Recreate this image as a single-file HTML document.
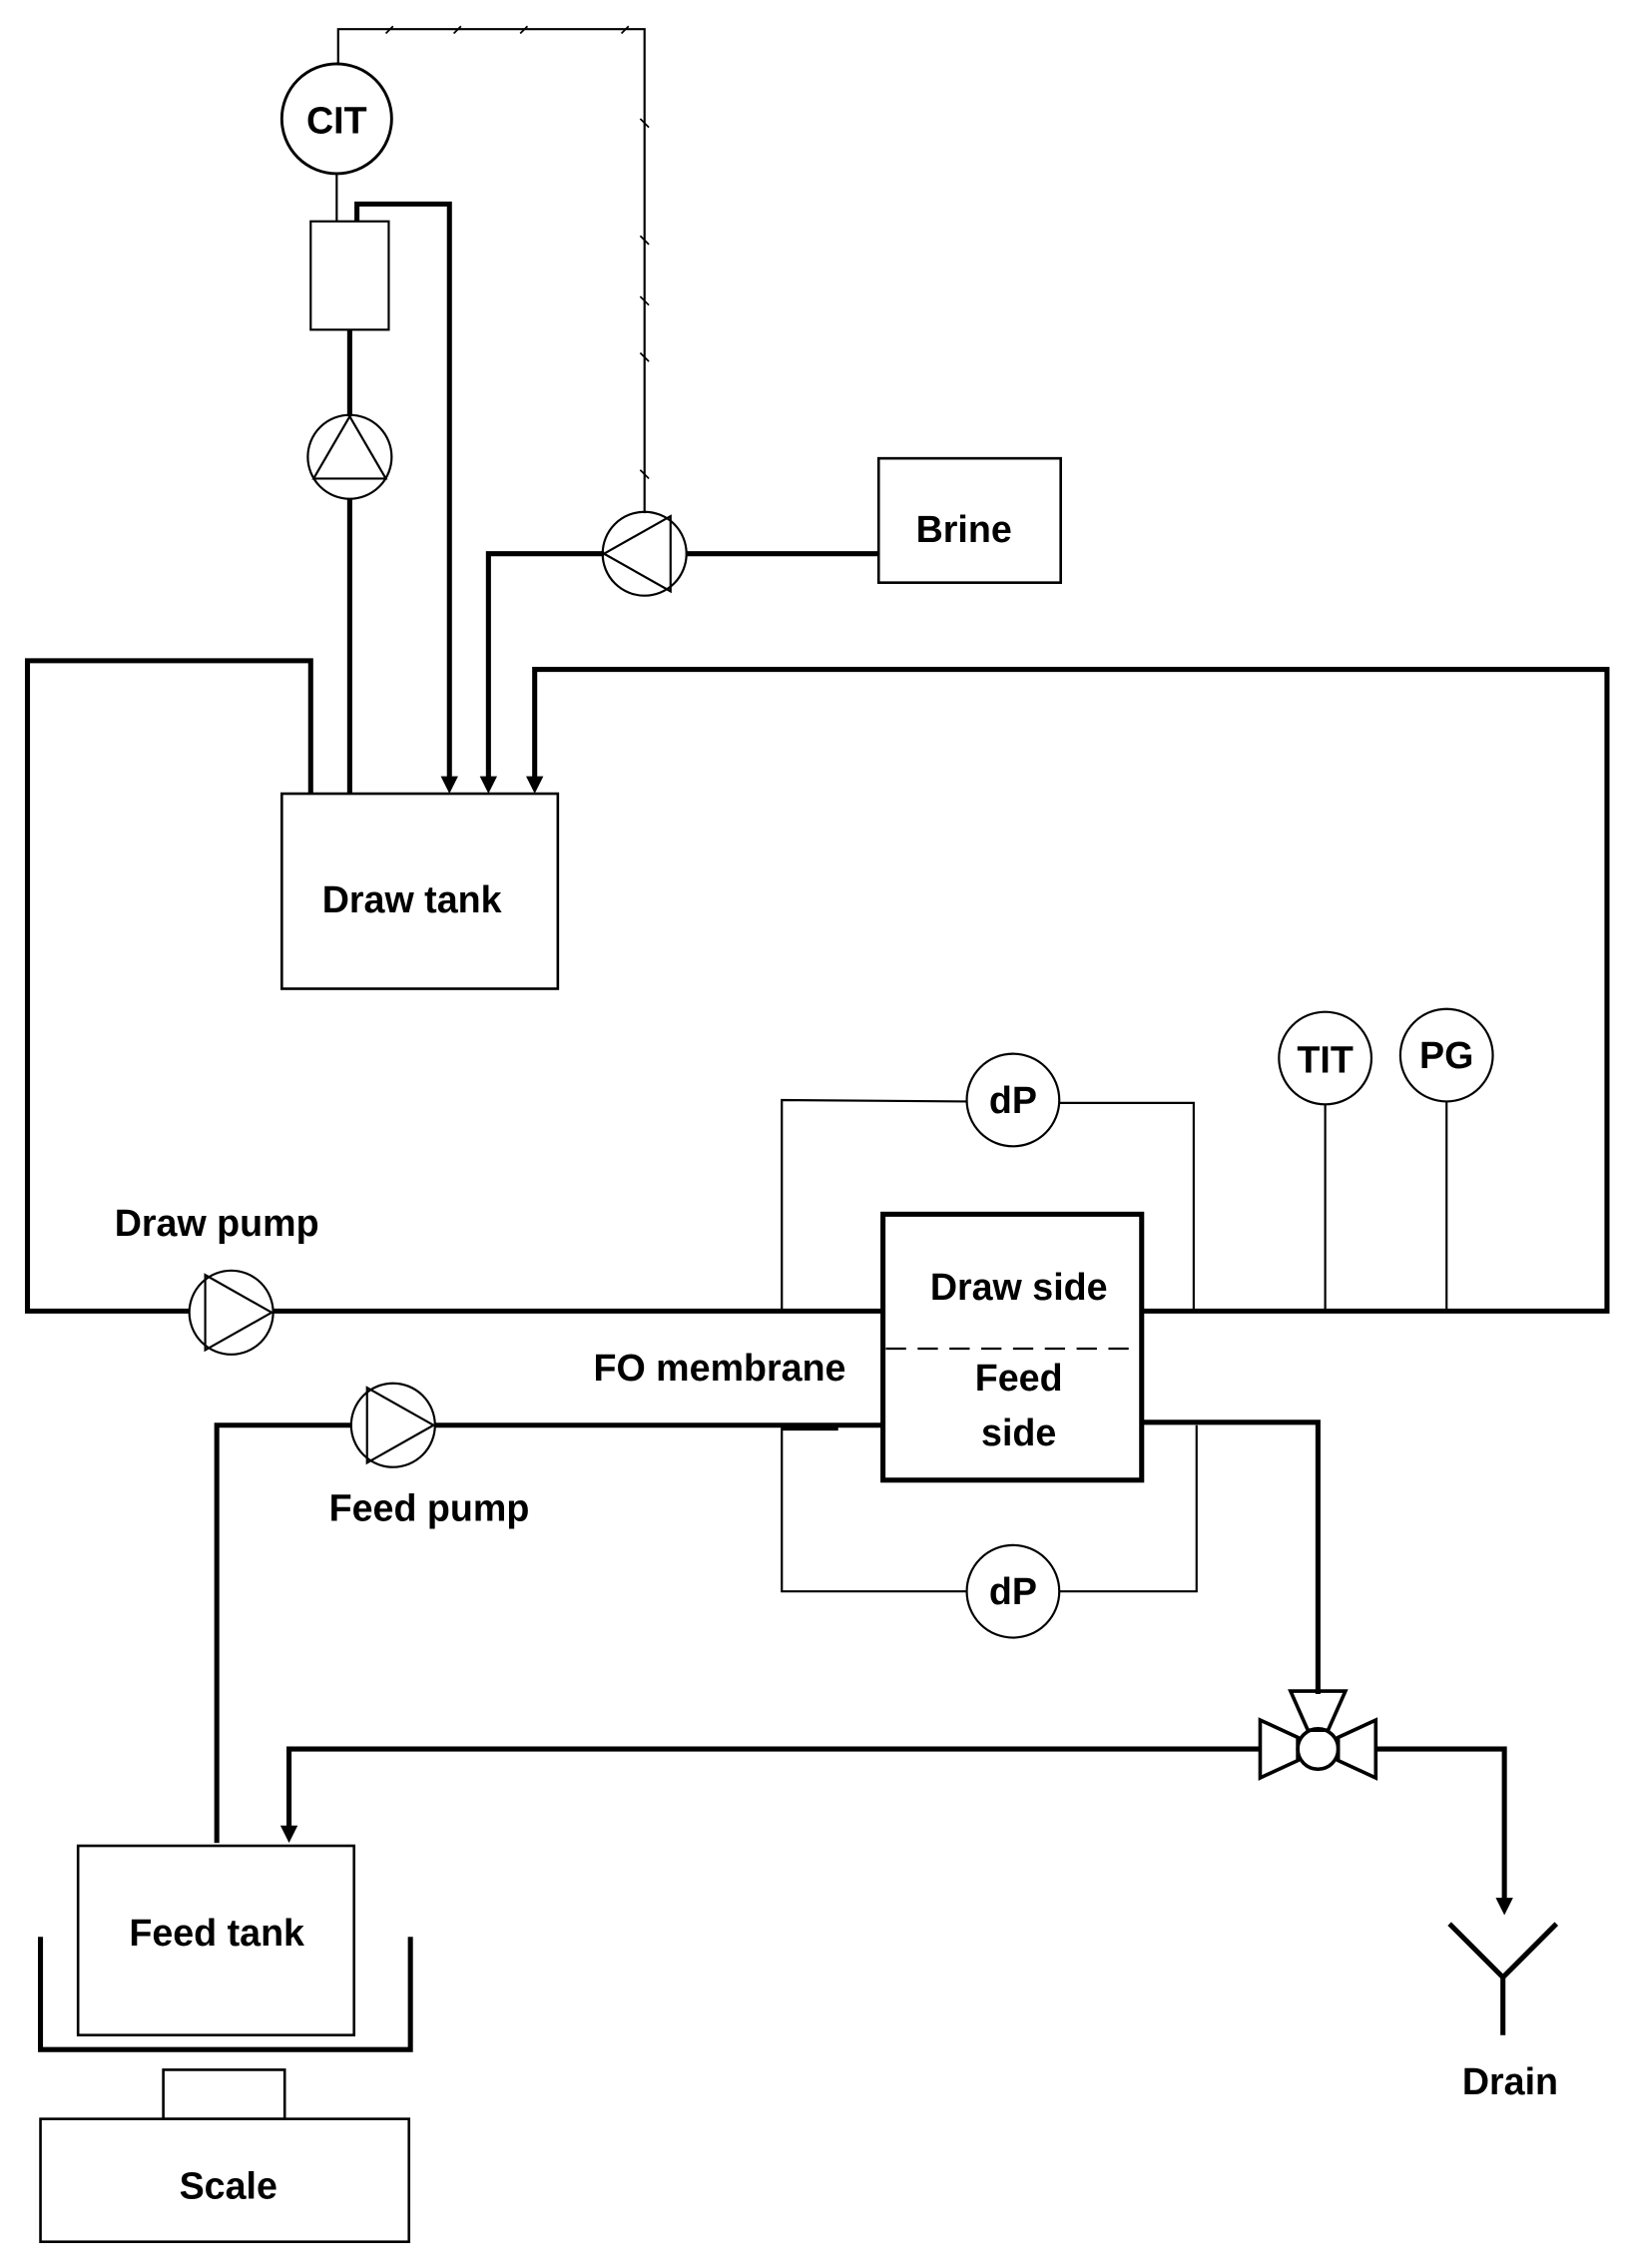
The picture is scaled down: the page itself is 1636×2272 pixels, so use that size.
<!DOCTYPE html>
<html><head><meta charset="utf-8"><style>
html,body{margin:0;padding:0;background:#fff;}
svg{display:block;}
text{font-family:"Liberation Sans",Arial,sans-serif;font-weight:bold;font-size:26px;fill:#000;text-anchor:middle;}
</style></head><body>
<svg width="1636" height="2272" viewBox="0 0 1130 1569" xmlns="http://www.w3.org/2000/svg">
<g fill="none" stroke="#000">
<polyline points="234,45 234,20 446,20 446,355" stroke-width="1.5"/>
<g stroke-width="1.2">
<line x1="267" y1="23" x2="272" y2="18"/><line x1="360" y1="23" x2="365" y2="18"/><line x1="430" y1="23" x2="435" y2="18"/><line x1="314" y1="23" x2="319" y2="18"/>
<line x1="443" y1="82" x2="449" y2="88"/><line x1="443" y1="163" x2="449" y2="169"/><line x1="443" y1="244" x2="449" y2="250"/><line x1="443" y1="325" x2="449" y2="331"/><line x1="443" y1="205" x2="449" y2="211"/>
</g>
<circle cx="233" cy="82" r="38" stroke-width="2"/>
<line x1="233" y1="120" x2="233" y2="153" stroke-width="1.5"/>
<rect x="215" y="153" width="54" height="75" stroke-width="1.5"/>
<g stroke-width="3.5">
<polyline points="247,153 247,141 311,141 311,540"/>
<line x1="242" y1="228" x2="242" y2="288"/>
<line x1="242" y1="345" x2="242" y2="549"/>
<polyline points="418,383 338,383 338,540"/>
<line x1="475" y1="383" x2="608" y2="383"/>
<polyline points="215,549 215,457 19,457 19,907 131,907"/>
<line x1="189" y1="907" x2="611" y2="907"/>
<polyline points="790,907 1112,907 1112,463 370,463 370,540"/>
<polyline points="150,1275 150,986 243,986"/>
<line x1="301" y1="986" x2="611" y2="986"/>
<line x1="541" y1="988" x2="580" y2="988"/>
<polyline points="790,984 912,984 912,1172"/>
<polyline points="872,1210 200,1210 200,1266"/>
<polyline points="952,1210 1041,1210 1041,1316"/>
<polyline points="1003,1331 1040,1368 1077,1331"/>
<line x1="1040" y1="1368" x2="1040" y2="1408"/>
<polyline points="28,1340 28,1418 284,1418 284,1340"/>
</g>
<g stroke-width="1.5">
<circle cx="242" cy="316" r="29"/><polygon points="242,288 217,331 267,331"/>
<circle cx="446" cy="383" r="29"/><polygon points="418,383 464,357 464,409"/>
<circle cx="160" cy="908" r="29"/><polygon points="188,908 142,882 142,934"/>
<circle cx="272" cy="986" r="29"/><polygon points="300,986 254,960 254,1012"/>
</g>
<g stroke-width="1.8">
<rect x="608" y="317" width="126" height="86"/>
<rect x="195" y="549" width="191" height="135"/>
<rect x="54" y="1277" width="191" height="131"/>
<rect x="113" y="1432" width="84" height="34"/>
<rect x="28" y="1466" width="255" height="85"/>
</g>
<rect x="611" y="840" width="179" height="184" stroke-width="3.5"/>
<line x1="613" y1="933" x2="786" y2="933" stroke-width="1.5" stroke-dasharray="14,8"/>
<g stroke-width="1.5">
<polyline points="541,907 541,761 669,762"/>
<polyline points="733,763 826,763 826,907"/>
<circle cx="701" cy="761" r="32"/>
<polyline points="541,986 541,1101 669,1101"/>
<polyline points="733,1101 828,1101 828,986"/>
<circle cx="701" cy="1101" r="32"/>
<circle cx="917" cy="732" r="32"/><line x1="917" y1="764" x2="917" y2="907"/>
<circle cx="1001" cy="730" r="32"/><line x1="1001" y1="762" x2="1001" y2="907"/>
</g>
<g stroke-width="2.5">
<circle cx="912" cy="1210" r="14"/>
<polygon points="893,1170 931,1170 919,1197 905,1197"/>
<polygon points="872,1190 872,1230 898,1218 898,1202"/>
<polygon points="952,1190 952,1230 926,1218 926,1202"/>
</g>
</g>
<g fill="#000">
<polygon points="305,537 317,537 311,549"/>
<polygon points="332,537 344,537 338,549"/>
<polygon points="364,537 376,537 370,549"/>
<polygon points="194,1263 206,1263 200,1275"/>
<polygon points="1035,1313 1047,1313 1041,1325"/>
</g>
<text x="233" y="92">CIT</text>
<text x="667" y="375">Brine</text>
<text x="285" y="631">Draw tank</text>
<text x="701" y="770">dP</text>
<text x="701" y="1110">dP</text>
<text x="917" y="742">TIT</text>
<text x="1001" y="739">PG</text>
<text x="150" y="855">Draw pump</text>
<text x="705" y="899">Draw side</text>
<text x="705" y="962">Feed</text>
<text x="705" y="1000">side</text>
<text x="498" y="955">FO membrane</text>
<text x="297" y="1052">Feed pump</text>
<text x="150" y="1346">Feed tank</text>
<text x="158" y="1521">Scale</text>
<text x="1045" y="1449">Drain</text>
</svg>
</body></html>
